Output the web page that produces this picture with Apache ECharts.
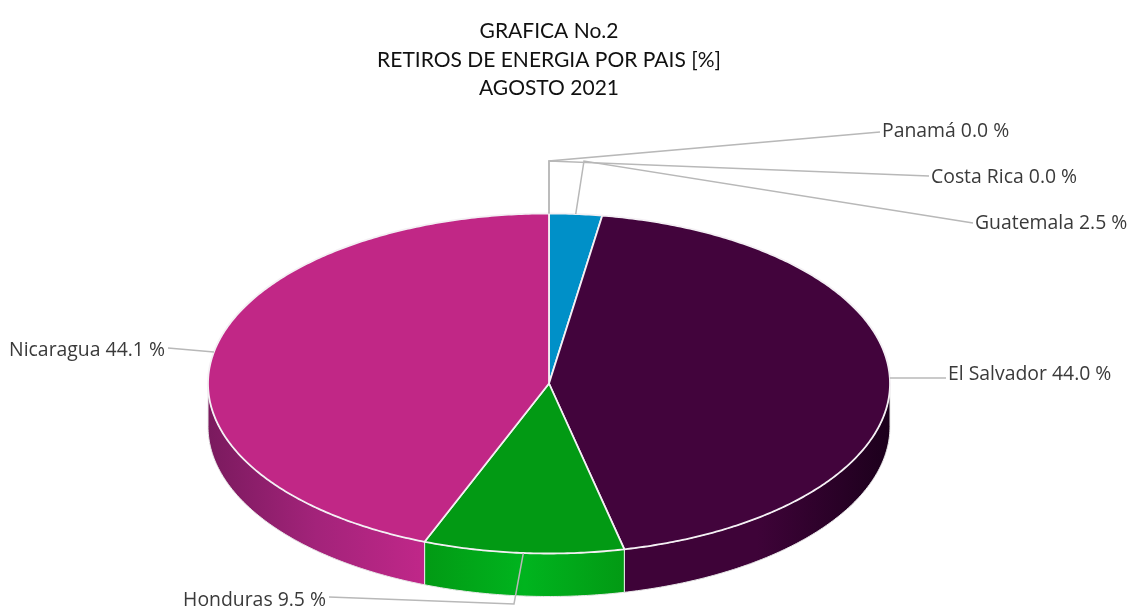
<!DOCTYPE html>
<html>
<head>
<meta charset="utf-8">
<style>html,body{margin:0;padding:0;background:#fff}#c{width:1133px;height:609px}</style>
<script src="https://cdn.jsdelivr.net/npm/echarts@6/dist/echarts.min.js"></script>
</head>
<body>
<div id="c"></div>
<script>
var titleLines = ['GRAFICA No.2', 'RETIROS DE ENERGIA POR PAIS [%]', 'AGOSTO 2021'];
var countries = ['Panamá', 'Costa Rica', 'Guatemala', 'El Salvador', 'Honduras', 'Nicaragua'];
var shares = [0.0, 0.0, 2.5, 44.0, 9.5, 44.1];

var topColors = ['#2f7ed8', '#0d233a', '#0090c8', '#42043c', '#029a14', '#c12786'];
var wallStops = [null, null, null,
  ['#3e0338', '#3e0338', '#1c001c'],
  ['#029a14', '#00b41e', '#029a14'],
  ['#7a1a5e', '#a3237a', '#c02789']];
var geo = {cx: 549, cy: 383.5, rx: 341, ry: 170, depth: 43};
// label placement: text anchor, line elbow and line end, per country
var leaderLayout = [
  {elbow: [549, 161], end: [880, 132], text: [882, 131], align: 'left'},
  {elbow: [549, 161], end: [929, 176], text: [931, 177], align: 'left'},
  {elbow: [584, 161], end: [973, 223], text: [975, 223], align: 'left'},
  {elbow: null,       end: [946, 378], text: [948, 374], align: 'left'},
  {elbow: [514, 604], end: [329, 597], text: [326, 600], align: 'right'},
  {elbow: null,       end: [168, 348], text: [165, 350], align: 'right'}
];

var total = shares.reduce(function (a, b) { return a + b; }, 0);
var starts = [];
shares.reduce(function (acc, v, i) { starts[i] = acc; return acc + v; }, 0);
function ang(v) { return v / total * Math.PI * 2; }
function pt(a, dy) {
  return [geo.cx + geo.rx * Math.sin(a), geo.cy - geo.ry * Math.cos(a) + (dy || 0)];
}
function arc(a0, a1, dy) {
  var n = Math.max(2, Math.ceil(Math.abs(a1 - a0) / 0.01)), out = [];
  for (var i = 0; i <= n; i++) out.push(pt(a0 + (a1 - a0) * i / n, dy));
  return out;
}

function renderSlice(params, api) {
  var i = params.dataIndex, v = api.value(1);
  if (v <= 0) return {type: 'group', children: []};
  var a0 = ang(starts[i]), a1 = a0 + ang(v), kids = [];
  var w0 = Math.max(a0, Math.PI / 2), w1 = Math.min(a1, Math.PI * 1.5);
  if (w1 > w0 && wallStops[i]) {
    var pts = arc(w0, w1, 0).concat(arc(w1, w0, geo.depth));
    var xs = pts.map(function (p) { return p[0]; });
    var xa = Math.min.apply(null, xs), xb = Math.max.apply(null, xs), s = wallStops[i];
    kids.push({
      type: 'polygon', shape: {points: pts},
      style: {
        fill: new echarts.graphic.LinearGradient(xa, 0, xb, 0, [
          {offset: 0, color: s[0]}, {offset: 0.5, color: s[1]}, {offset: 1, color: s[2]}
        ], true),
        stroke: '#e8e8e8', lineWidth: 1
      }
    });
  }
  var top = [[geo.cx, geo.cy]].concat(arc(a0, a1, 0));
  kids.push({
    type: 'polygon', shape: {points: top}, z2: 5,
    style: {fill: topColors[i], stroke: '#f4f0f4', lineWidth: 1.8, lineJoin: 'round'}
  });
  return {type: 'group', children: kids};
}

function renderLeader(params, api) {
  var i = params.dataIndex, v = api.value(1), L = leaderLayout[i];
  var mid = ang(starts[i] + v / 2), p = pt(mid, 0);
  var pts = L.elbow ? [p, L.elbow, L.end] : [p, L.end];
  return {type: 'group', children: [
    {type: 'polyline', shape: {points: pts}, style: {fill: null, stroke: '#b8b8b8', lineWidth: 1.5}},
    {type: 'text', style: {
      x: L.text[0], y: L.text[1], text: countries[i] + ' ' + v.toFixed(1) + ' %',
      align: L.align, verticalAlign: 'middle', fill: '#3a3a3a',
      font: '19.4px "Open Sans", sans-serif'
    }}
  ]};
}

var chart = echarts.init(document.getElementById('c'), null, {renderer: 'canvas'});
var rows = countries.map(function (c, i) { return [c, shares[i]]; });
chart.setOption({
  animation: false,
  backgroundColor: '#fff',
  title: {
    text: titleLines.join('\n'), left: 544, top: 12, textAlign: 'center',
    textStyle: {fontFamily: 'Lato', fontWeight: 'normal', fontSize: 21, lineHeight: 28.5, color: '#111'}
  },
  series: [
    {type: 'custom', name: 'Retiros', coordinateSystem: 'none', z: 2, data: rows, renderItem: renderSlice, silent: true},
    {type: 'custom', name: 'Etiquetas', coordinateSystem: 'none', z: 3, data: rows, renderItem: renderLeader, silent: true}
  ]
});
</script>
</body>
</html>
